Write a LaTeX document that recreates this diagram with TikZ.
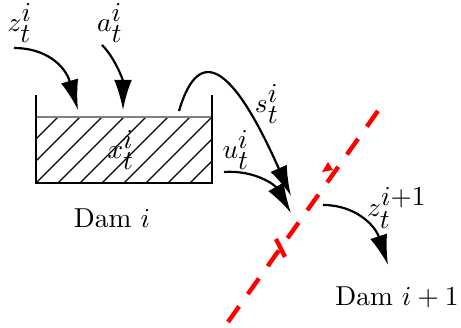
\documentclass[tikz,border=0pt]{standalone}
\usepackage{tikz}
\usetikzlibrary{arrows.meta}
\definecolor{red}{RGB}{255, 0, 0}
% scripts set at text size, as in the drawing
\newcommand{\qvar}[3]{$#1^{\textstyle #2}_{\textstyle #3}$}

\begin{document}
\begin{tikzpicture}[x=0.365pt, y=-0.365pt,
        flow/.style={line width=0.8pt, -{Latex[length=11pt, width=6.5pt]}}]
        \useasboundingbox (0,0) rectangle (461,328);

        % Reservoir with hatched water
        \begin{scope}
            \clip (36,117) rectangle (212,183);
            \foreach \i in {-3,...,8}
                \draw[line width=0.4pt] (36+22*\i,183) -- ++(66,-66);
        \end{scope}
        \draw[gray, line width=0.5pt] (36,117) -- (212,117);
        \draw[line width=0.8pt] (36,95) -- (36,183) -- (212,183) -- (212,95);
        \node (x) at (121,150) {\qvar{x}{i}{t}};
        \node (dam) at (112,218) {Dam $i$};
        \node (damnext) at (397,297) {Dam $i+1$};

        % Inflows
        \node (z) at (20,23) {\qvar{z}{i}{t}};
        \node (a) at (110,23) {\qvar{a}{i}{t}};
        \coordinate (zin) at (14,48);
        \coordinate (zout) at (78,110);
        \coordinate (ain) at (102,45);
        \coordinate (aout) at (123,110);
        \draw[flow] (zin) .. controls (45,48) and (65,65) .. (zout);
        \draw[flow] (ain) .. controls (115,58) and (123,80) .. (aout);

        % Spill and release
        \node (s) at (267,104) {\qvar{s}{i}{t}};
        \node (u) at (236,150) {\qvar{u}{i}{t}};
        \coordinate (sin) at (179,111);
        \coordinate (sout) at (291,196);
        \coordinate (uin) at (224,172);
        \coordinate (uout) at (291,213);
        \draw[flow] (sin) .. controls (200,40) and (235,70) .. (sout);
        \draw[flow] (uin) .. controls (255,170) and (275,185) .. (uout);

        % Outflow to the next dam
        \node (znext) at (397,208) {\qvar{z}{i{+}1}{t}};
        \coordinate (nin) at (323,205);
        \coordinate (nout) at (388,265);
        \draw[flow] (nin) .. controls (355,205) and (375,225) .. (nout);

        % Red cut
        \coordinate (cutlow) at (228,322);
        \coordinate (cuthigh) at (380,108);
        \draw[red, line width=1.6pt, dash pattern=on 7pt off 5.5pt] (cutlow) -- (cuthigh);
        \fill[red] (322,172) -- (328,162) -- (333,170) -- cycle;
        \draw[red, line width=1.6pt] (276,239) -- (285,257);
    \end{tikzpicture}
\end{document}
